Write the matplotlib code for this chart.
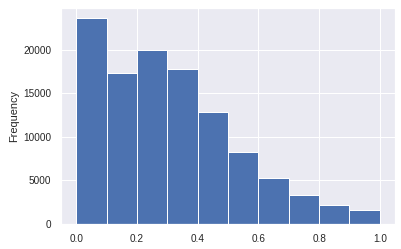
import numpy as np
import matplotlib
matplotlib.use("Agg")
import matplotlib.pyplot as plt
import seaborn as sns

# histogram counts, 10 bins over [0, 1]
bin_edges = [0.0, 0.1, 0.2, 0.3, 0.4, 0.5, 0.6, 0.7, 0.8, 0.9, 1.0]
counts = [23600, 17350, 19950, 17750, 12880, 8260, 5300, 3370, 2240, 1670]
xticks = [0.0, 0.2, 0.4, 0.6, 0.8, 1.0]
yticks = [0, 5000, 10000, 15000, 20000]

sns.set_theme(style="darkgrid")
plt.rcParams['font.family'] = ['Liberation Sans', 'DejaVu Sans']

fig = plt.figure(figsize=(401 / 72, 249 / 72), dpi=72)
ax = fig.add_axes([0.152, 0.100, 0.833, 0.868])

left = np.array(bin_edges[:-1])
widths = np.diff(bin_edges)
ax.bar(left, counts, width=widths, align="edge", color="#4c72b0",
       edgecolor="white", linewidth=1)

ax.set_xlim(-0.05, 1.05)
ax.set_ylim(0, max(counts) * 1.05)
ax.set_xticks(xticks)
ax.set_xticklabels([f"{t:.1f}" for t in xticks], fontsize=10)
ax.set_yticks(yticks)
ax.set_yticklabels([str(t) for t in yticks], fontsize=10)
ax.set_ylabel("Frequency", fontsize=11)

fig.savefig("out.png", dpi=72)
